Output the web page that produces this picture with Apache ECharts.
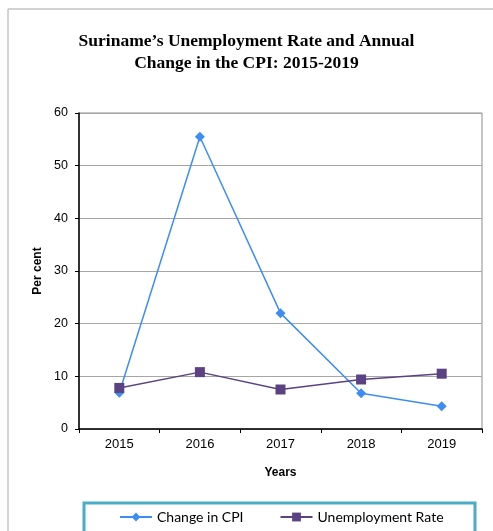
<!DOCTYPE html>
<html>
<head>
<meta charset="utf-8">
<script src="https://cdn.jsdelivr.net/npm/echarts@6/dist/echarts.min.js"></script>
<style>
  html, body { margin: 0; padding: 0; background: #fff; }
  #main { width: 493px; height: 531px; }
</style>
</head>
<body>
<div id="main"></div>
<script>
const years = ['2015', '2016', '2017', '2018', '2019'];
const cpiChange = [6.9, 55.5, 22.0, 6.8, 4.3];
const unemployment = [7.8, 10.8, 7.5, 9.4, 10.5];

const chart = echarts.init(document.getElementById('main'));

const option = {
  backgroundColor: '#fff',
  animation: false,
  title: {
    text: 'Suriname\u2019s Unemployment Rate and Annual\nChange in the CPI: 2015-2019',
    left: 'center',
    top: 25,
    textStyle: {
      fontFamily: 'Liberation Serif',
      fontWeight: 'bold',
      fontSize: 17.5,
      lineHeight: 22,
      color: '#000'
    }
  },
  graphic: [
    // outer chart frame
    { type: 'line', shape: { x1: 8, y1: 9, x2: 493, y2: 9 }, style: { stroke: '#c4c4c4', lineWidth: 1.5 } },
    { type: 'line', shape: { x1: 8, y1: 9, x2: 8, y2: 531 }, style: { stroke: '#c4c4c4', lineWidth: 1.5 } },
    // legend box
    { type: 'rect', shape: { x: 84, y: 503, width: 391, height: 30 }, style: { fill: '#fff', stroke: '#4bacc6', lineWidth: 3 }, z: 0 }
  ],
  grid: {
    left: 79,
    right: 11,
    top: 113,
    bottom: 102,
    show: true,
    borderColor: '#8c8c8c',
    borderWidth: 1
  },
  legend: {
    left: 114,
    top: 505,
    itemWidth: 32,
    itemHeight: 11,
    itemGap: 36,
    textStyle: { fontFamily: 'Lato', fontSize: 14, color: '#000' },
    data: ['Change in CPI', 'Unemployment Rate']
  },
  xAxis: {
    type: 'category',
    data: years,
    boundaryGap: true,
    name: 'Years',
    nameLocation: 'middle',
    nameGap: 38,
    nameTextStyle: { fontFamily: 'Liberation Sans', fontWeight: 'bold', fontSize: 12, color: '#000' },
    axisLine: { lineStyle: { color: '#000', width: 1.5 } },
    axisTick: { show: true, alignWithLabel: false, length: 4, lineStyle: { color: '#000' } },
    axisLabel: { fontFamily: 'Liberation Sans', fontSize: 13, color: '#000', margin: 9 }
  },
  yAxis: {
    type: 'value',
    min: 0,
    max: 60,
    interval: 10,
    name: 'Per cent',
    nameLocation: 'middle',
    nameGap: 33,
    nameTextStyle: { fontFamily: 'Liberation Sans', fontWeight: 'bold', fontSize: 12, color: '#000' },
    axisLine: { show: true, lineStyle: { color: '#000', width: 1.5 } },
    axisTick: { show: true, length: 4, lineStyle: { color: '#000' } },
    axisLabel: { fontFamily: 'Liberation Sans', fontSize: 12.5, color: '#000', margin: 11 },
    splitLine: { show: true, lineStyle: { color: '#a6a6a6', width: 1 } }
  },
  series: [
    {
      name: 'Change in CPI',
      type: 'line',
      data: cpiChange,
      symbol: 'diamond',
      symbolSize: 10,
      color: '#3d8ef0',
      lineStyle: { width: 1.5, color: '#3d8ef0' },
      itemStyle: { color: '#3d8ef0' }
    },
    {
      name: 'Unemployment Rate',
      type: 'line',
      data: unemployment,
      symbol: 'rect',
      symbolSize: 10,
      color: '#5b4282',
      lineStyle: { width: 1.5, color: '#5b4282' },
      itemStyle: { color: '#5b4282' }
    }
  ]
};

chart.setOption(option);
</script>
</body>
</html>
